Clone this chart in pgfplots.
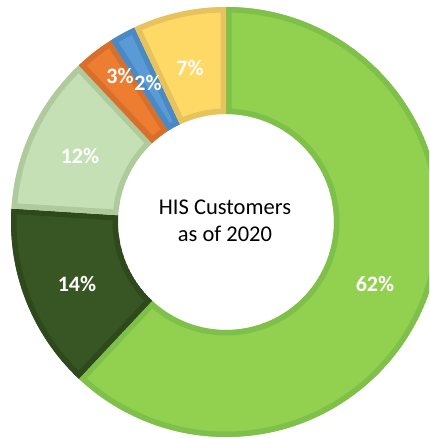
\documentclass[border=0pt]{standalone}
\usepackage{pgfplots}
\pgfplotsset{compat=1.18}
\usepackage{fontspec}
\setmainfont{Carlito}
\definecolor{c1}{HTML}{92D050}\definecolor{l1}{HTML}{7FC04A}
\definecolor{c2}{HTML}{375623}\definecolor{l2}{HTML}{2E4A1D}
\definecolor{c3}{HTML}{C5E0B4}\definecolor{l3}{HTML}{AFCB9D}
\definecolor{c4}{HTML}{ED7D31}\definecolor{l4}{HTML}{D8702B}
\definecolor{c5}{HTML}{5B9BD5}\definecolor{l5}{HTML}{4A89C3}
\definecolor{c6}{HTML}{FFD966}\definecolor{l6}{HTML}{E6C35C}
\newcommand\segpath[2]{(#1:215pt) arc[start angle=#1, end angle=#2, radius=215pt] -- (#2:108pt) arc[start angle=#2, end angle=#1, radius=108pt] -- cycle}
\begin{document}
\begin{tikzpicture}
\begin{axis}[width=429pt,height=439pt,scale only axis,
  xmin=-226,xmax=203,ymin=-217,ymax=222,hide axis,clip=true]
\addplot[draw=none] coordinates {(0,0)};
\pgfplotsextra{%
  \gdef\cum{0}%
  \foreach \v/\fc/\lc in {62/c1/l1,14/c2/l2,12/c3/l3,3/c4/l4,2/c5/l5,7/c6/l6}{%
    \pgfmathsetmacro\a{90-3.6*\cum}%
    \pgfmathsetmacro\b{90-3.6*(\cum+\v)}%
    \begin{scope}[shift={(axis cs:0,0)}]
      \clip \segpath{\a}{\b};
      \fill[\fc] \segpath{\a}{\b};
      \draw[\lc,line width=11pt] \segpath{\a}{\b};
    \end{scope}
    \pgfmathsetmacro\newcum{\cum+\v}\global\let\cum\newcum
  }%
}
\node[align=center,font=\fontsize{22.5}{27}\selectfont,text=black] at (axis cs:-1,1) {HIS Customers\\as of 2020};
\begin{scope}[every node/.style={text=white,font=\fontsize{22}{26}\selectfont\bfseries}]
\node at (axis cs:149,-62) {62\%};
\node at (axis cs:-149,-62) {14\%};
\node at (axis cs:-146,66) {12\%};
\node at (axis cs:-106,146) {3\%};
\node at (axis cs:-78,139) {2\%};
\node at (axis cs:-36,154) {7\%};
\end{scope}
\coordinate (SW) at (axis cs:-226,-217);
\coordinate (NE) at (axis cs:203,222);
\end{axis}
\pgfresetboundingbox
\useasboundingbox (SW) rectangle (NE);
\end{tikzpicture}
\end{document}
